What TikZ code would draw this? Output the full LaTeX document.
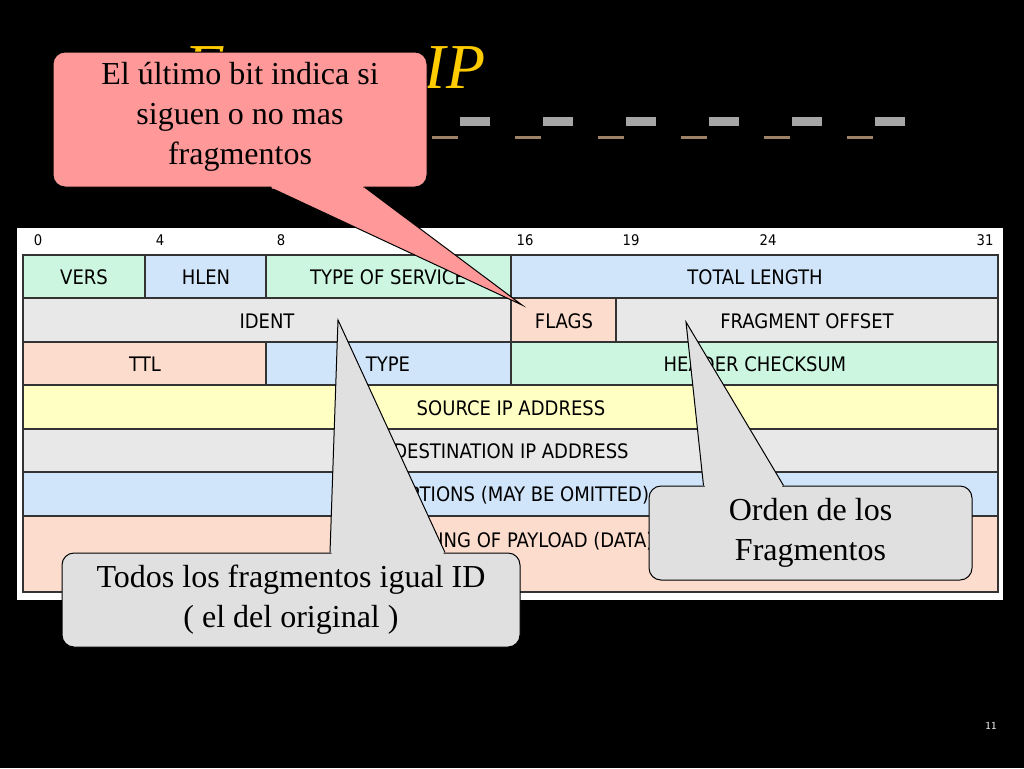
\documentclass[tikz,border=0pt]{standalone}
\usepackage{fontspec}
\setmainfont{Liberation Serif}
\newfontfamily\tabfont{DejaVu Sans Condensed}
\usetikzlibrary{positioning,calc}

\definecolor{mint}{RGB}{204,246,224}
\definecolor{skyb}{RGB}{208,228,250}
\definecolor{peach}{RGB}{252,220,204}
\definecolor{lgray}{RGB}{232,232,232}
\definecolor{lyel}{RGB}{255,255,196}
\definecolor{rosa}{RGB}{255,153,153}
\definecolor{cgray}{RGB}{224,224,224}
\definecolor{gold}{RGB}{255,204,0}

\tikzset{every picture/.style={line width=0.75pt}}
\tikzset{
  field/.style={draw=black!80, line width=1.2pt},
  ftext/.style={font=\tabfont\fontsize{15}{15}\selectfont, inner sep=0.75pt},
  bitno/.style={font=\tabfont\fontsize{11}{11}\selectfont, inner sep=0.75pt},
  callout/.style={draw=black, rounded corners=9pt, align=center, inner sep=0pt,
    font=\fontsize{24}{30}\selectfont},
}

\begin{document}
\begin{tikzpicture}[x=0.75pt,y=0.75pt,yscale=-1,xscale=1]
\useasboundingbox[fill=black] (0,0) rectangle (1024,768);

% Title
\node (title) at (335,68) [text=gold, font=\fontsize{48}{48}\selectfont\itshape] {Formato IP};
\foreach \i in {0,...,5} {
  \fill [gray!70] (460+\i*83,117) rectangle +(30,9);
  \fill [brown!60!black!70] (432+\i*83,136) rectangle +(26,3);
}

% Table frame
\fill [white] (17,228) rectangle (1003,600);
\foreach \b/\x in {0/38,4/160,8/281,16/525,19/631,24/768,31/985}
  \node [bitno] (bit\b) at (\x,240) {\b};

% Row 1
\draw [field, fill=mint] (23,255) rectangle (145,298);
\draw [field, fill=skyb] (145,255) rectangle (266,298);
\draw [field, fill=mint] (266,255) rectangle (511,298);
\draw [field, fill=skyb] (511,255) rectangle (998,298);
\node [ftext] (vers) at (84,277) {VERS};
\node [ftext] (hlen) at (206,277) {HLEN};
\node [ftext] (tos) at (388,277) {TYPE OF SERVICE};
\node [ftext] (tlen) at (755,277) {TOTAL LENGTH};
% Row 2
\draw [field, fill=lgray] (23,298) rectangle (511,342);
\draw [field, fill=peach] (511,298) rectangle (616,342);
\draw [field, fill=lgray] (616,298) rectangle (998,342);
\node [ftext] (ident) at (267,321) {IDENT};
\node [ftext] (flags) at (564,321) {FLAGS};
\node [ftext] (foff) at (807,321) {FRAGMENT OFFSET};
% Row 3
\draw [field, fill=peach] (23,342) rectangle (266,385);
\draw [field, fill=skyb] (266,342) rectangle (511,385);
\draw [field, fill=mint] (511,342) rectangle (998,385);
\node [ftext] (ttl) at (145,364) {TTL};
\node [ftext] (type) at (388,364) {TYPE};
\node [ftext] (hcs) at (755,364) {HEADER CHECKSUM};
% Rows 4-7
\draw [field, fill=lyel] (23,385) rectangle (998,429);
\draw [field, fill=lgray] (23,429) rectangle (998,472);
\draw [field, fill=skyb] (23,472) rectangle (998,516);
\draw [field, fill=peach] (23,516) rectangle (998,592);
\node [ftext] (src) at (511,408) {SOURCE IP ADDRESS};
\node [ftext] (dst) at (511,451) {DESTINATION IP ADDRESS};
\node [ftext] (opt) at (511,495) {IP OPTIONS (MAY BE OMITTED)};
\node [ftext] (data) at (511,541) {BEGINNING OF PAYLOAD (DATA)};

% Callout: flags
\coordinate (tipA) at (522,305);
\node [callout, fill=rosa, minimum width=374*0.75pt, minimum height=135*0.75pt]
  (cA) at (240,119.5) {\\[-18pt]El último bit indica si\\ siguen o no mas\\ fragmentos};
\draw [fill=rosa] ($(cA.south)+(30,0)$) -- (tipA) -- ($(cA.south)+(125,0)$);
\fill [rosa] ($(cA.south)+(31,-3)$) -- ($(cA.south)+(124,-3)$)
  -- ($(cA.south)+(123,1)$) -- ($(cA.south)+(32,1)$) -- cycle;

% Callout: ident
\coordinate (tipB) at (338,320);
\node [callout, fill=cgray, minimum width=458*0.75pt, minimum height=94*0.75pt]
  (cB) at (291,600) {Todos los fragmentos igual ID\\ ( el del original )};
\draw [fill=cgray] ($(cB.north)+(39,0)$) -- (tipB) -- ($(cB.north)+(154,0)$);
\fill [cgray] ($(cB.north)+(40,3)$) -- ($(cB.north)+(153,3)$)
  -- ($(cB.north)+(152,-1)$) -- ($(cB.north)+(41,-1)$) -- cycle;

% Callout: offset
\coordinate (tipC) at (686,322);
\node [callout, fill=cgray, minimum width=323*0.75pt, minimum height=94*0.75pt]
  (cC) at (810.5,533) {Orden de los\\ Fragmentos};
\draw [fill=cgray] ($(cC.north)+(-107,0)$) -- (tipC) -- ($(cC.north)+(-27,0)$);
\fill [cgray] ($(cC.north)+(-106,3)$) -- ($(cC.north)+(-28,3)$)
  -- ($(cC.north)+(-29,-1)$) -- ($(cC.north)+(-105,-1)$) -- cycle;

% Page number
\node [text=white, font=\sffamily\fontsize{8}{8}\selectfont] (pageno) at (991,726) {11};
\end{tikzpicture}
\end{document}
